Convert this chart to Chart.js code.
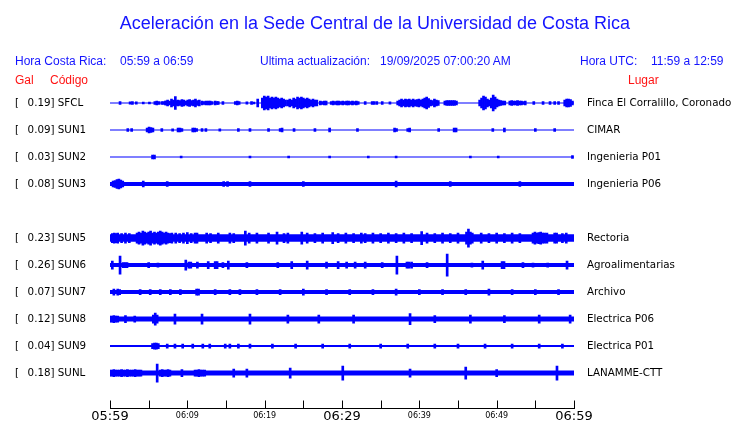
<!DOCTYPE html>
<html>
<head>
<meta charset="utf-8">
<script src="https://cdn.jsdelivr.net/npm/chart.js@4.4.1/dist/chart.umd.min.js"></script>
<style>
body { margin: 0; background: #fff; }
#wrap { position: relative; width: 740px; height: 423px; }
canvas { position: absolute; left: 0; top: 0; }
.t { position: absolute; white-space: nowrap; font-family: "Liberation Sans", Arial, sans-serif; font-size: 12px; line-height: 14px; color: #1414ff; }
.red { color: #ff1414; }
#title { left: 0; width: 750px; top: 12px; text-align: center; font-size: 18px; line-height: 22px; }
</style>
</head>
<body>
<div id="wrap">
<canvas id="seis" width="740" height="423"></canvas>
<div class="t" id="title">Aceleración en la Sede Central de la Universidad de Costa Rica</div>
<div class="t" style="left:15px;top:54px">Hora Costa Rica:</div>
<div class="t" style="left:120px;top:54px">05:59 a 06:59</div>
<div class="t" style="left:260px;top:54px">Ultima actualización:</div>
<div class="t" style="left:380px;top:54px">19/09/2025 07:00:20 AM</div>
<div class="t" style="left:580px;top:54px">Hora UTC:</div>
<div class="t" style="left:651px;top:54px">11:59 a 12:59</div>
<div class="t red" style="left:15px;top:73px">Gal</div>
<div class="t red" style="left:50px;top:73px">Código</div>
<div class="t red" style="left:628px;top:73px">Lugar</div>
</div>
<script>
// time axis labels (every 10 min), minutes since 05:59
var xLabels = ['05:59', '06:09', '06:19', '06:29', '06:39', '06:49', '06:59'];

// one row per station, row 4 (SUN4) is empty
var codes = ['SFCL', 'SUN1', 'SUN2', 'SUN3', '', 'SUN5', 'SUN6', 'SUN7', 'SUN8', 'SUN9', 'SUNL'];
var peakGal = [0.19, 0.09, 0.03, 0.08, null, 0.23, 0.26, 0.07, 0.12, 0.04, 0.18];
var places = ['Finca El Corralillo, Coronado', 'CIMAR', 'Ingenieria P01', 'Ingenieria P06', '',
    'Rectoria', 'Agroalimentarias', 'Archivo', 'Electrica P06', 'Electrica P01', 'LANAMME-CTT'];

// background noise level of each trace (half amplitude, counts)
var noise = [0.5, 0.5, 0.5, 2, null, 3.7, 2, 2, 2.5, 1, 2.5];

// bursts: [start minute, half amplitudes every 0.25 min]
var sfcl = [[1.3, [1.5]], [2.6, [1.2]], [2.9, [1.5]], [3.4, [1.2]], [4.3, [1]], [5.1, [1]], [5.8, [1.5, 1.8, 1.5]],
    [6.7, [1.5, 1.5, 2]], [7.2, [2, 3, 2, 4, 3, 6.5, 2.5]], [8.8, [3, 2.5, 3.5, 3, 2, 3, 3.5, 2.5, 3, 4, 2.5, 3]],
    [11.9, [2, 1.5, 2]], [12.7, [2, 2, 1.5]], [13.6, [2, 1.5]], [14.0, [1.5]], [14.6, [1.5]],
    [16.2, [1.5, 2, 1.5]], [17.7, [1.2]], [18.3, [1.5]], [18.6, [1]], [19.1, [4]],
    [19.7, [5, 7, 6, 7, 5, 6, 5, 6, 5, 4, 5, 4, 3]],
    [23.0, [3, 4, 3, 5, 4, 6, 5, 6, 5, 4, 5, 4, 3, 4, 3, 3]],
    [27.2, [2, 1.5, 2, 2]], [28.6, [1.5, 2, 1.5, 2, 1.8, 1.5, 2, 1.5, 1.8, 2, 1.5, 1.8, 1.5, 2, 1.5]],
    [33.0, [1.5]], [33.9, [1.5, 1.5]], [34.5, [1.5]], [35.2, [1.5]], [36.2, [1.2]],
    [37.2, [2, 3, 4, 3, 4, 3.5, 4, 3, 4, 3, 3.5, 4, 3, 4, 5, 6, 4.5, 3, 2.5, 4, 3, 2.5]],
    [43.3, [2, 2.5, 2.5, 2.5, 2.5, 2.5, 2]],
    [47.8, [3, 5, 7, 6, 4, 3, 5, 8, 6, 4, 3, 2.5, 2, 2]],
    [51.7, [2, 2.5, 2, 2, 2.5, 2, 2, 1.5, 2]],
    [54.8, [1.5]], [56.0, [1.5]], [56.9, [1.5]], [57.5, [1.5]], [58.0, [1.5]], [58.8, [3, 4, 4, 3.5, 2]]];
var sun1 = [[2.3, [1.5]], [2.8, [1.5]], [4.8, [2, 3, 2.5, 2]], [6.7, [1.5]], [8.1, [1.2]], [8.8, [2, 2, 1.5]],
    [10.7, [2, 2, 1.5]], [11.9, [1.5]], [12.4, [1.5]], [14.2, [1.2]], [16.6, [1.5]], [18.1, [1.5]],
    [20.5, [1.5]], [22.0, [1.5, 2]], [23.8, [1.5]], [26.5, [1.5]], [28.4, [2]], [32.0, [1.5]],
    [36.8, [2, 1.5]], [38.5, [1.5, 2]], [42.5, [1.5]], [44.5, [2, 2]], [49.5, [1.5]], [51.0, [2]],
    [55.0, [1.5]], [57.5, [1.5]]];
var sun2 = [[5.5, [2, 2]], [9.2, [1]], [18.1, [1]], [23.1, [1]], [28.4, [1]], [33.4, [1]], [37, [1]],
    [46.6, [1]], [50.2, [1]], [59.8, [1.5]]];
var sun3 = [[0.4, [3, 3.5, 4.5, 5, 4, 3]], [4.3, [3]], [7.4, [2.5]], [14.7, [2.5]], [15.2, [2.5]], [18.1, [2.5]],
    [25, [2.5]], [37, [3]], [44, [2.5]], [53, [2.5]]];
var sun5 = [[0.3, [4.5, 5, 4.5]], [1.0, [5]], [1.5, [4.5]], [2.0, [5]], [2.5, [4.5]],
    [3.5, [5, 6, 5, 7, 6, 5, 6, 7, 5, 6, 5, 6, 7, 6, 5, 6, 5, 4.5, 5]],
    [8.5, [5]], [9, [4.5]], [9.5, [5]], [10, [5.5]], [10.5, [4.5]], [11, [5, 5]], [12.5, [5]], [13, [4.5]],
    [14, [5]], [15.5, [5]], [16, [4.5]], [17.5, [7]], [18, [5]], [19, [5]], [20.5, [5]], [21.6, [6]],
    [22.5, [4.5]], [23, [5]], [24.8, [6]], [25.5, [5]], [26.5, [4.5]], [27.5, [5]], [28.8, [5.5]],
    [29.5, [4.5]], [30.5, [5]], [31.5, [4.5]], [32.5, [5]], [33, [4.5]], [34, [5]], [35, [4.5]], [36, [5]],
    [37, [4.5]], [38, [5]], [39, [4.5]], [40.3, [6.5]], [41, [5]], [42, [4.5]], [43, [5]], [44, [4.5]],
    [45, [5]], [46.1, [6, 9, 6, 5]], [48, [5]], [49, [4.5]], [50, [5]], [51, [4.5]], [52, [5]], [53, [4.5]],
    [54.7, [5, 6, 5, 5.5, 6, 5, 5]], [56.5, [5]], [57.5, [5, 5]], [58.5, [4.5]], [59, [5]]];
var sun6 = [[0.3, [4]], [1.3, [9]], [1.7, [2.5, 2.5, 2.5]], [5.0, [2.5]], [6.2, [2]], [9.8, [5]], [10.2, [3, 3]],
    [11.3, [3]], [12.7, [3.5]], [13.6, [3.5, 3.5]], [14.6, [2.5]], [15.3, [4]], [17.7, [2.5]], [21.7, [2.5]],
    [23.5, [3.5]], [25.5, [4]], [28, [3]], [29.5, [3.5]], [30.6, [3]], [31.7, [3]], [33, [3]], [35.2, [2.5]],
    [37.1, [9]], [38.4, [3, 3]], [39.0, [3]], [41, [2.5]], [43.6, [11]], [46.8, [2]], [48.2, [4]],
    [50.7, [3.5, 3.5]], [53.4, [2.5]], [54.7, [2]], [56.6, [2]], [59.1, [4]]];
var sun7 = [[0.5, [3]], [1.0, [3, 2.5]], [3.9, [2.5]], [5.2, [2.5]], [6.5, [2.5]], [7.8, [2.5]], [9.1, [2.5]],
    [11.2, [3, 3]], [13.6, [2.5]], [15.5, [2.5]], [16.8, [2.5]], [19, [2.5]], [22, [2.5]], [25, [3]],
    [28, [2.5]], [31, [2.5]], [34, [2.5]], [37, [3]], [40, [2.5]], [43, [2.5]], [46, [2.5]], [49, [3]],
    [52, [2.5]], [55, [2.5]], [58, [2.5]]];
var sun8 = [[0, [3, 3, 3.5, 3, 3]], [2, [3.5]], [3.2, [3]], [5.6, [4, 6, 4]], [8.4, [5]], [11.9, [5]], [18.1, [5]],
    [23, [4]], [27, [4]], [31.5, [4]], [38.8, [5.5]], [42, [3.5]], [46.6, [4]], [51, [3.5]], [55.5, [4]],
    [59.5, [4]]];
var sun9 = [[5.5, [2.5, 3, 3, 2.5]], [7.4, [2]], [8.4, [2]], [9.4, [2]], [10.7, [2]], [12.0, [2]], [12.9, [2]],
    [14.9, [2]], [15.5, [2]], [16.6, [2]], [18.1, [2]], [21, [2]], [24, [2]], [27.5, [2]], [31, [2]],
    [35, [2]], [38.5, [2]], [42, [2]], [45, [2]], [48.5, [2]], [52, [2]], [55.5, [2]], [58.5, [2]]];
var sunl = [[0, [3, 3, 3.5, 3, 3, 3, 3.5, 3, 3, 3.5, 3, 3, 3, 3.5, 3, 3, 3]], [6.1, [9]],
    [6.5, [3, 3.5, 3, 3, 3.5, 3]], [9.3, [3.5]], [11, [3, 3, 3.5, 3, 3, 3]], [16, [4]], [17.7, [4]],
    [23.3, [5]], [30.1, [7]], [38.8, [4]], [46, [6]], [50, [3.5]], [57.8, [7]]];

var bursts = [sfcl, sun1, sun2, sun3, null, sun5, sun6, sun7, sun8, sun9, sunl];

var GAIN = 1 / 27;   // row units per count
var STEP = 0.25;     // minutes between burst samples
var BLUE = '#0000ff';
var rows = codes.map(function(c, i) { return i; }).filter(function(i) { return codes[i] !== ''; });

var datasets = [];
rows.forEach(function(r) {
    var b = noise[r] * GAIN;
    datasets.push({
        type: 'line',
        data: [{ x: 0, y: r - b }, { x: 60, y: r - b }],
        fill: { value: r + b },
        backgroundColor: BLUE,
        borderWidth: 0,
        pointRadius: 0
    });
    var pts = [];
    bursts[r].forEach(function(ev) {
        ev[1].forEach(function(a, k) {
            pts.push({ x: ev[0] + k * STEP, y: [r - a * GAIN, r + a * GAIN] });
        });
    });
    datasets.push({
        type: 'bar',
        data: pts,
        backgroundColor: BLUE,
        borderWidth: 0,
        barThickness: 2,
        grouped: false
    });
});

// axis line with short ticks pointing up into the plot
var tickMarks = {
    id: 'tickMarks',
    afterDraw: function(chart) {
        var sx = chart.scales.x;
        var c = chart.ctx;
        var bottom = Math.round(chart.chartArea.bottom) - 0.5;
        c.save();
        c.strokeStyle = '#000';
        c.lineWidth = 1;
        c.beginPath();
        c.moveTo(Math.round(sx.getPixelForValue(0)), bottom);
        c.lineTo(Math.round(sx.getPixelForValue(60)) + 1, bottom);
        sx.ticks.forEach(function(t) {
            var px = Math.round(sx.getPixelForValue(t.value)) + 0.5;
            c.moveTo(px, bottom);
            c.lineTo(px, bottom - 8);
        });
        c.stroke();
        c.restore();
    }
};

var rowTicks = function(scale) {
    scale.ticks = rows.map(function(r) { return { value: r }; });
};
// the row labels need no extra room above or below the plot
var fitRows = function(w) {
    return function(scale) {
        scale.width = w;
        scale.paddingTop = 0;
        scale.paddingBottom = 0;
    };
};

new Chart(document.getElementById('seis').getContext('2d'), {
    type: 'bar',
    data: { datasets: datasets },
    plugins: [tickMarks],
    options: {
        responsive: false,
        devicePixelRatio: 1,
        animation: false,
        layout: { padding: { top: 89.5, left: 15, right: 0, bottom: 0 } },
        plugins: { legend: { display: false }, tooltip: { enabled: false } },
        scales: {
            x: {
                type: 'linear',
                min: 0,
                max: 60,
                offset: false,
                grid: { display: false, drawTicks: false },
                border: { display: false },
                afterBuildTicks: function(scale) {
                    var t = [];
                    for (var m = 0; m <= 60; m += 5) t.push({ value: m });
                    scale.ticks = t;
                },
                afterFit: function(scale) { scale.height = 14.5; },
                ticks: {
                    autoSkip: false,
                    maxRotation: 0,
                    padding: 0,
                    color: '#000',
                    font: function(ctx) {
                        var major = ctx.tick && ctx.tick.value % 30 === 0;
                        return major ? { family: 'DejaVu Sans', size: 13, lineHeight: 1.3 }
                                     : { family: 'DejaVu Sans', size: 8, lineHeight: 1.9 };
                    },
                    callback: function(v) { return v % 10 === 0 ? xLabels[v / 10] : ''; }
                }
            },
            y: {
                type: 'linear',
                position: 'left',
                reverse: true,
                min: -0.5,
                max: 11.31,
                grid: { display: false, drawTicks: false },
                border: { display: false },
                afterBuildTicks: rowTicks,
                afterFit: fitRows(95),
                ticks: {
                    crossAlign: 'far',
                    color: '#000',
                    font: { family: 'DejaVu Sans', size: 10.3 },
                    callback: function(v) { return '[  \u2009' + peakGal[v].toFixed(2) + '] ' + codes[v]; }
                }
            },
            y2: {
                type: 'linear',
                position: 'right',
                reverse: true,
                min: -0.5,
                max: 11.31,
                grid: { display: false, drawTicks: false },
                border: { display: false },
                afterBuildTicks: rowTicks,
                afterFit: fitRows(166),
                ticks: {
                    crossAlign: 'near',
                    padding: 13,
                    color: '#000',
                    font: { family: 'DejaVu Sans', size: 10.3 },
                    callback: function(v) { return places[v]; }
                }
            }
        }
    }
});
</script>
</body>
</html>
